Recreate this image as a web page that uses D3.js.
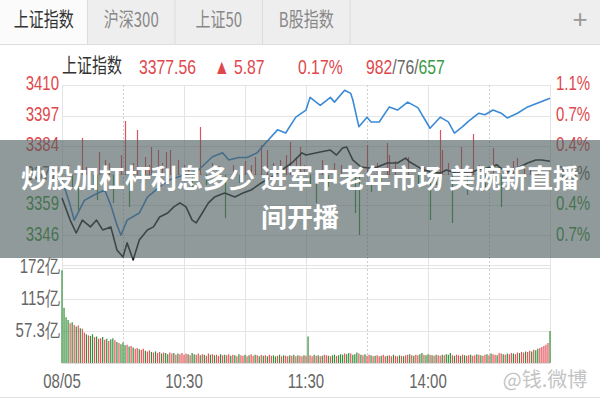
<!DOCTYPE html>
<html>
<head>
<meta charset="utf-8">
<script src="https://cdn.jsdelivr.net/npm/d3@7"></script>
<style>
  body { margin: 0; background: #fff; }
  svg { display: block; }
</style>
</head>
<body>
<svg id="chart" width="600" height="400"></svg>
<script>
// ---- data ----
const tabs = ["上证指数", "沪深300", "上证50", "B股指数"];
const indexName = "上证指数";
const prevClose = 3371.69;
const lastPrice = 3377.56;
const change = 5.87;
const changePct = 0.17;
const breadthCounts = [982, 76, 657];

const priceTicks = [3410, 3397, 3384, 3372, 3359, 3346];
const pctTickLabels = ["1.1%", "0.7%", "0.4%", "0.0%", "0.4%", "0.7%"];
const volTicks = [172, 115, 57.3];
const volTickLabels = ["172亿", "115亿", "57.3亿"];
const timeTickMinutes = [0, 60, 120, 180];
const timeTickLabels = ["08/05", "10:30", "11:30", "14:00"];

// index price, minutes after 9:30 (trading minutes)
const indexMinutes = [0, 4, 7, 10, 14, 17, 20, 24, 27, 30, 32, 35, 38, 42, 45, 48, 52, 55, 58, 61,
  64, 66, 69, 72, 75, 80, 85, 89, 93, 98, 103, 108, 113, 118, 120, 127, 132, 135, 138, 140,
  143, 147, 151, 155, 160, 165, 169, 171, 176, 181, 186, 189, 194, 201, 204, 209, 214, 215, 219, 225,
  229, 233, 236, 240];
const indexValues = [3361.9, 3352.5, 3347.0, 3352.5, 3349.6, 3352.5, 3348.3, 3349.6, 3339.8, 3336.8,
  3342.8, 3335.5, 3344.0, 3348.3, 3349.6, 3353.8, 3355.5, 3358.1, 3359.8, 3358.1,
  3352.5, 3351.3, 3355.5, 3359.8, 3362.3, 3364.0, 3362.3, 3364.0, 3365.3, 3368.3,
  3370.8, 3373.8, 3376.8, 3381.1, 3380.2, 3381.5, 3382.3, 3380.2, 3383.2, 3383.6,
  3378.1, 3375.1, 3374.7, 3375.1, 3376.8, 3376.8, 3378.9, 3377.2, 3374.7, 3373.0,
  3372.5, 3373.8, 3372.5, 3372.5, 3373.8, 3374.7, 3376.0, 3375.1, 3373.0, 3375.1,
  3376.8, 3378.1, 3378.1, 3377.56];

// average line, percent change vs previous close
const avgMinutes = [0, 4, 6, 11, 16, 21, 24, 27, 29, 32, 38, 42, 48, 53, 60, 67, 74, 79, 82, 87,
  91, 96, 100, 106, 110, 115, 120, 122, 127, 132, 134, 139, 142, 143, 146, 150, 152, 156, 161, 165,
  170, 175, 181, 186, 190, 193, 197, 200, 205, 208, 212, 216, 219, 224, 229, 234, 240];
const avgPct = [-0.06, -0.38, -0.57, -0.32, -0.25, -0.19, -0.38, -0.63, -0.76, -0.57,
  -0.48, -0.28, -0.15, -0.06, 0.00, 0.06, 0.23, 0.28, 0.19, 0.22,
  0.22, 0.28, 0.40, 0.57, 0.53, 0.73, 0.82, 0.98, 0.88, 0.98,
  0.92, 1.07, 1.03, 0.95, 0.61, 0.73, 0.67, 0.67, 0.86, 0.82,
  0.92, 0.85, 0.59, 0.73, 0.67, 0.53, 0.61, 0.68, 0.78, 0.76,
  0.82, 0.78, 0.72, 0.78, 0.86, 0.91, 0.97];

// buying/selling strength bars around the previous-close line
const strengthMinutes = [3, 5, 8, 10, 12, 15, 17, 18, 21, 23, 25, 27, 29, 31, 33, 35, 37, 39, 41, 43,
  44, 47, 49, 51, 53, 55, 57, 60, 62, 64, 68, 71, 74, 77, 80, 84, 87, 90, 93, 95,
  98, 101, 104, 107, 110, 112, 115, 117, 119, 122, 125, 128, 131, 134, 137, 140, 144, 146, 150, 152,
  155, 157, 160, 161, 164, 167, 170, 175, 178, 181, 184, 186, 187, 190, 192, 196, 199, 202, 205, 208,
  212, 216, 219, 222, 224, 227, 230, 234];
const strengthValues = [10, -12, -35, 37, 8, -15, -25, 23, 15, 12, -28, -10, 20, 54, -32, 12, 45, -8, 18, 10,
  28, 25, 12, 23, 25, -8, 15, 10, 8, -15, 48, -10, 12, 9, -43, 10, -8, 14, 10, 18,
  30, 25, 12, 15, 20, 33, 18, 28, 10, -10, -28, 15, -12, 12, 10, -15, -38, -60, 30, -17,
  12, -10, 32, 20, 14, 10, 18, -12, 8, -45, -10, 45, 25, 12, -48, 28, -20, 41, 10, -12,
  27, -32, 10, 14, 17, 8, 6, 5];

// turnover per minute (亿), 241 minutes
const volumes = [
  168, 100, 83, 78, 72, 74, 69, 66, 68, 63, 62, 55, 52, 50, 49, 52, 47, 48, 44, 45,
  47, 42, 44, 40, 43, 45, 41, 38, 36, 34, 37, 32, 33, 30, 31, 28, 26, 27, 25, 24,
  26, 22, 21, 23, 20, 19, 21, 18, 20, 17, 19, 18, 16, 19, 17, 18, 15, 17, 16, 18,
  15, 17, 16, 14, 18, 16, 15, 17, 14, 16, 15, 13, 17, 15, 16, 14, 15, 13, 16, 14,
  15, 14, 16, 13, 15, 14, 12, 16, 14, 13, 15, 12, 14, 16, 13, 15, 14, 12, 15, 13,
  14, 12, 15, 13, 14, 12, 13, 15, 12, 14, 13, 12, 14, 13, 15, 12, 14, 13, 12, 14,
  13, 48, 14, 12, 15, 13, 14, 12, 13, 15, 14, 13, 12, 14, 15, 13, 14, 16, 15, 17,
  16, 18, 17, 15, 16, 19, 17, 15, 14, 16, 13, 15, 14, 12, 13, 14, 12, 13, 15, 12,
  13, 14, 12, 15, 13, 12, 14, 13, 12, 14, 15, 16, 14, 13, 15, 14, 16, 18, 15, 14,
  16, 15, 14, 13, 15, 14, 13, 15, 14, 16, 15, 18, 14, 13, 15, 14, 13, 15, 14, 13,
  14, 15, 13, 14, 16, 15, 14, 13, 15, 16, 14, 17, 16, 15, 14, 18, 17, 16, 15, 17,
  16, 18, 17, 16, 19, 18, 20, 19, 21, 20, 22, 21, 24, 23, 26, 27, 29, 31, 33, 36,
  58];
// r = minute closed up, g = minute closed down
const volumeDirections =
  "ggggrgrgrgrrgrggrgrr" +
  "grgrggrgrgggrgrgrrgr" +
  "rgrrgrgrrgrggrrgrgrr" +
  "rrgrggrrgrgrrgrgrrgr" +
  "grrgrgrgrrgrgrrgrgrg" +
  "rgrrggrgrgrrgrgrgrrg" +
  "rgrrgrgrgrrgrggrgggr" +
  "ggrgggrgrgrrgrgrrgrr" +
  "grrgrrgrgrrgrgrrggrg" +
  "grgrgrrgrgggrgrrgrgr" +
  "rgrrgrgrrgrgrrgrrgrg" +
  "rrgrrgrrgrrgrggrrrrr" +
  "g";

const headline = ["炒股加杠杆利息多少 进军中老年市场 美腕新直播", "间开播"];
const watermark = "@钱.微博";

// ---- drawing ----
const RED = "#e0474c", GREEN = "#3a9a42", GREY = "#666";
const NUM_FONT = "'Liberation Sans', Arial, sans-serif";
const CJK_FONT = "'Noto Sans CJK SC', 'Liberation Sans', sans-serif";
const SQ = 0.75; // horizontal compression of the app's text

const svg = d3.select("#chart");

const plotL = 62, plotR = 550, priceTop = 85, priceBot = 265, volTop = 268, volBot = 363;
const pctTop = (priceTicks[0] / prevClose - 1) * 100;

const x = d3.scaleLinear().domain([0, 240]).range([plotL, plotR]);
const y = d3.scaleLinear().domain([2 * prevClose - priceTicks[0], priceTicks[0]]).range([priceBot, priceTop]);
const yPct = d3.scaleLinear().domain([-pctTop, pctTop]).range([priceBot, priceTop]);
const yStrength = d3.scaleLinear().domain([-90, 90]).range([priceBot, priceTop]);
const yVol = d3.scaleLinear().domain([0, volTicks[0]]).range([volBot, volTop]);

function label(parent, px, py, str, opt) {
  const g = parent.append("g").attr("transform", `translate(${px},${py}) scale(${opt.sx ?? SQ},1)`);
  return g.append("text")
    .attr("text-anchor", opt.anchor || "start")
    .attr("dominant-baseline", opt.baseline || "middle")
    .attr("font-family", opt.family || NUM_FONT)
    .attr("font-size", opt.size || 20)
    .attr("fill", opt.fill || GREY)
    .text(str);
}

// tab bar
svg.append("rect").attr("x", 0).attr("y", 0).attr("width", 600).attr("height", 44).attr("fill", "#eeeeee");
svg.append("rect").attr("x", 0).attr("y", 0).attr("width", 87).attr("height", 44).attr("fill", "#fbfbfb");
const tabW = 87.5;
tabs.forEach((t, i) => {
  if (i > 0) {
    svg.append("line").attr("x1", i * tabW).attr("x2", i * tabW).attr("y1", 0).attr("y2", 44)
      .attr("stroke", "#dcdcdc");
  }
  label(svg, i * tabW + tabW / 2, 22, t, { anchor: "middle", family: CJK_FONT, size: 20, fill: i === 0 ? "#333" : "#888" });
});
svg.append("line").attr("x1", 350).attr("x2", 350).attr("y1", 0).attr("y2", 44).attr("stroke", "#dcdcdc");
svg.append("line").attr("x1", 0).attr("x2", 600).attr("y1", 44.5).attr("y2", 44.5).attr("stroke", "#dddddd");
label(svg, 580, 21, "+", { anchor: "middle", size: 26, fill: "#999", sx: 1 });

// quote header
label(svg, 62, 68, indexName, { family: CJK_FONT, size: 20, fill: "#333" });
label(svg, 139, 68, lastPrice.toFixed(2), { size: 21, fill: RED });
label(svg, 214, 68, "▲ " + change.toFixed(2), { size: 21, fill: RED });
label(svg, 298, 68, changePct.toFixed(2) + "%", { size: 21, fill: RED });
{
  const g = svg.append("g").attr("transform", `translate(366,68) scale(${SQ},1)`);
  const t = g.append("text").attr("dominant-baseline", "middle").attr("font-family", NUM_FONT).attr("font-size", 21);
  t.append("tspan").attr("fill", RED).text(breadthCounts[0]);
  t.append("tspan").attr("fill", GREY).text("/" + breadthCounts[1] + "/");
  t.append("tspan").attr("fill", GREEN).text(breadthCounts[2]);
}

// grid
const grid = svg.append("g").attr("stroke", "#e4e4e4").attr("stroke-width", 1);
priceTicks.forEach(v => {
  grid.append("line").attr("x1", plotL).attr("x2", plotR).attr("y1", Math.round(y(v)) + 0.5).attr("y2", Math.round(y(v)) + 0.5);
});
grid.append("line").attr("x1", plotL).attr("x2", plotR).attr("y1", priceBot + 0.5).attr("y2", priceBot + 0.5);
volTicks.forEach(v => {
  grid.append("line").attr("x1", plotL).attr("x2", plotR).attr("y1", Math.round(yVol(v)) + 0.5).attr("y2", Math.round(yVol(v)) + 0.5);
});
d3.range(0, 241, 30).forEach(m => {
  const dashed = [30, 150, 210].includes(m);
  grid.append("line").attr("x1", Math.round(x(m)) + 0.5).attr("x2", Math.round(x(m)) + 0.5)
    .attr("y1", priceTop).attr("y2", volBot)
    .attr("stroke", dashed ? "#cfcfcf" : "#e4e4e4")
    .attr("stroke-dasharray", dashed ? "2,2" : null);
});

// strength bars
svg.append("g").selectAll("line").data(strengthMinutes).join("line")
  .attr("x1", m => Math.round(x(m)) + 0.5).attr("x2", m => Math.round(x(m)) + 0.5)
  .attr("y1", yStrength(0))
  .attr("y2", (m, i) => yStrength(strengthValues[i]))
  .attr("stroke", (m, i) => strengthValues[i] >= 0 ? "#d9545c" : "#3c9a46")
  .attr("stroke-width", 1.2);

// average line and index line
svg.append("path")
  .attr("d", d3.line().x((m) => x(m)).y((m, i) => yPct(avgPct[i]))(avgMinutes))
  .attr("fill", "none").attr("stroke", "#3a8ad6").attr("stroke-width", 1.6).attr("stroke-linejoin", "round");
svg.append("path")
  .attr("d", d3.line().x((m) => x(m)).y((m, i) => y(indexValues[i]))(indexMinutes))
  .attr("fill", "none").attr("stroke", "#222").attr("stroke-width", 1.6).attr("stroke-linejoin", "round");

// volume bars
svg.append("g").selectAll("line").data(volumes).join("line")
  .attr("x1", (v, i) => x(i)).attr("x2", (v, i) => x(i))
  .attr("y1", volBot).attr("y2", v => yVol(v))
  .attr("stroke", (v, i) => volumeDirections[i] === "r" ? "#e8505a" : "#2f8f37")
  .attr("stroke-width", 1.2);
svg.append("line").attr("x1", plotL).attr("x2", plotR).attr("y1", volBot + 0.5).attr("y2", volBot + 0.5).attr("stroke", "#ddd");

// axis labels
const mid = Math.floor(priceTicks.length / 2);
priceTicks.forEach((v, i) => {
  const c = i < mid ? RED : (i === mid ? GREY : GREEN);
  label(svg, 59, y(v), v, { anchor: "end", size: 20, fill: c });
  label(svg, 556, y(v), pctTickLabels[i], { size: 20, fill: c });
});
volTicks.forEach((v, i) => {
  label(svg, 60, yVol(v), volTickLabels[i], { anchor: "end", size: 20, fill: GREY });
});
timeTickMinutes.forEach((m, i) => {
  label(svg, x(m), 383, timeTickLabels[i], { anchor: "middle", size: 20, fill: GREY });
});
svg.append("line").attr("x1", 0).attr("x2", 600).attr("y1", 397.5).attr("y2", 397.5).attr("stroke", "#e2e2e2");

// watermark
label(svg, 545, 382, watermark, { anchor: "middle", family: CJK_FONT, size: 20, fill: "#c4c4c4", sx: 1 });

// headline band
svg.append("rect").attr("x", 0).attr("y", 140).attr("width", 600).attr("height", 118)
  .attr("fill", "rgba(78,92,92,0.62)");
headline.forEach((line, i) => {
  svg.append("text")
    .attr("x", 300).attr("y", 181 + i * 39)
    .attr("text-anchor", "middle").attr("dominant-baseline", "middle")
    .attr("font-family", CJK_FONT).attr("font-weight", "bold").attr("font-size", 26)
    .attr("fill", "#fff")
    .text(line);
});
</script>
</body>
</html>
